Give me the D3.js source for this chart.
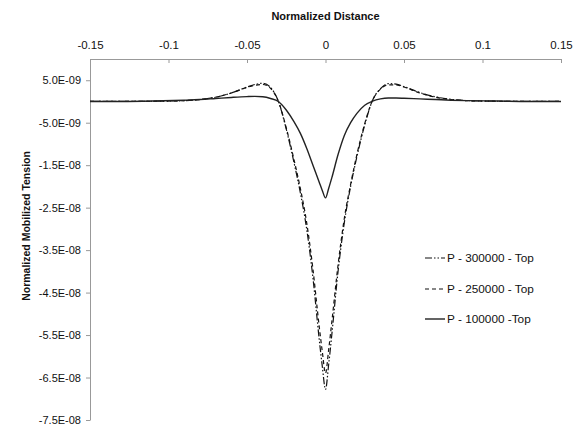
<!DOCTYPE html>
<html><head><meta charset="utf-8">
<script src="https://cdn.jsdelivr.net/npm/d3@7/dist/d3.min.js"></script>
<style>
html,body{margin:0;padding:0;background:#fff;}
text{font-family:"Liberation Sans",Arial,sans-serif;fill:#111;}
</style></head>
<body>
<svg id="chart" width="573" height="429"></svg>
<script>
const xs = [-0.15,-0.13,-0.11,-0.09,-0.08,-0.07,-0.06,-0.05,-0.045,-0.04,-0.035,-0.03,-0.025,-0.02,-0.016,-0.012,-0.008,-0.004,-0.002,0,0.002,0.004,0.008,0.012,0.016,0.02,0.025,0.03,0.035,0.04,0.045,0.05,0.06,0.07,0.08,0.09,0.11,0.13,0.15];
const p300000 = [0,0,0.05e-9,0.2e-9,0.45e-9,1.0e-9,2.0e-9,3.4e-9,4.0e-9,4.3e-9,3.3e-9,0,-6.5e-9,-14.5e-9,-21.5e-9,-30.0e-9,-41.5e-9,-56.0e-9,-62.5e-9,-67.8e-9,-62.0e-9,-55.0e-9,-40.0e-9,-28.5e-9,-20.0e-9,-13.0e-9,-5.5e-9,0.3e-9,3.0e-9,4.2e-9,4.1e-9,3.5e-9,2.1e-9,1.1e-9,0.5e-9,0.2e-9,0.05e-9,0,0];
const p250000 = [0,0,0.05e-9,0.2e-9,0.45e-9,1.0e-9,2.0e-9,3.3e-9,3.8e-9,4.0e-9,3.1e-9,0,-6.2e-9,-13.8e-9,-20.5e-9,-28.5e-9,-39.5e-9,-53.0e-9,-59.0e-9,-64.0e-9,-58.5e-9,-52.0e-9,-38.5e-9,-27.5e-9,-19.5e-9,-12.5e-9,-5.2e-9,0.3e-9,2.9e-9,3.9e-9,3.9e-9,3.4e-9,2.0e-9,1.0e-9,0.45e-9,0.2e-9,0.05e-9,0,0];
const p100000 = [0,0,0.1e-9,0.3e-9,0.45e-9,0.7e-9,0.95e-9,1.15e-9,1.2e-9,1.1e-9,0.7e-9,0,-2.0e-9,-4.8e-9,-7.5e-9,-11.0e-9,-15.0e-9,-19.0e-9,-21.0e-9,-22.7e-9,-20.5e-9,-18.0e-9,-12.5e-9,-8.0e-9,-5.0e-9,-2.8e-9,-0.9e-9,0.1e-9,0.6e-9,0.8e-9,0.8e-9,0.75e-9,0.6e-9,0.45e-9,0.3e-9,0.2e-9,0.1e-9,0,0];
const seriesNames = ["P - 300000 - Top","P - 250000 - Top","P - 100000 -Top"];
const xTickValues = [-0.15,-0.1,-0.05,0,0.05,0.1,0.15];
const xTickLabels = ["-0.15","-0.1","-0.05","0","0.05","0.1","0.15"];
const yTickValues = [5e-9,-5e-9,-1.5e-8,-2.5e-8,-3.5e-8,-4.5e-8,-5.5e-8,-6.5e-8,-7.5e-8];
const yTickLabels = ["5.0E-09","-5.0E-09","-1.5E-08","-2.5E-08","-3.5E-08","-4.5E-08","-5.5E-08","-6.5E-08","-7.5E-08"];

const svg = d3.select("#chart");
const L = 90, R = 561, T = 59, B = 420;
const x = d3.scaleLinear().domain([-0.15,0.15]).range([L,R]);
const y = d3.scaleLinear().domain([-7.5e-8,1e-8]).range([B,T]);

// top axis
const xAxis = d3.axisTop(x).tickValues(xTickValues)
  .tickFormat((d,i)=>xTickLabels[i]).tickSizeInner(-4).tickSizeOuter(0).tickPadding(10);
const gx = svg.append("g").attr("transform",`translate(0,${T})`).call(xAxis);
gx.select(".domain").attr("stroke","#999");
gx.selectAll(".tick line").attr("stroke","#999");
gx.selectAll(".tick text").attr("font-size","11.5px").attr("fill","#111").attr("dy","0");

// left axis
const yAxis = d3.axisLeft(y).tickValues(yTickValues)
  .tickFormat((d,i)=>yTickLabels[i]).tickSizeInner(4).tickSizeOuter(0).tickPadding(5);
const gy = svg.append("g").attr("transform",`translate(${L},0)`).call(yAxis);
gy.select(".domain").attr("stroke","#999");
gy.selectAll(".tick line").attr("stroke","#999");
gy.selectAll(".tick text").attr("font-size","11px").attr("fill","#111");

// titles
svg.append("text").attr("x",(L+R)/2).attr("y",20).attr("text-anchor","middle")
  .attr("font-size","11px").attr("font-weight","bold").text("Normalized Distance");
svg.append("text").attr("transform",`translate(30,226) rotate(-90)`).attr("text-anchor","middle")
  .attr("font-size","10.5px").attr("font-weight","bold").text("Normalized Mobilized Tension");

const styles = [
  {data:p300000, dash:"7,2,1.5,2,1.5,2", w:1.2, color:"#111"},
  {data:p250000, dash:"4,3", w:1.2, color:"#111"},
  {data:p100000, dash:null, w:1.4, color:"#222"}
];
const line = d3.line().curve(d3.curveMonotoneX);
styles.forEach(s=>{
  const pts = xs.map((v,i)=>[x(v), y(s.data[i])]);
  svg.append("path").attr("d", line(pts)).attr("fill","none")
    .attr("stroke",s.color).attr("stroke-width",s.w)
    .attr("stroke-dasharray",s.dash);
});

// legend
const legY = [258,289,319];
styles.forEach((s,i)=>{
  svg.append("line").attr("x1",425).attr("x2",445).attr("y1",legY[i]).attr("y2",legY[i])
    .attr("stroke",s.color).attr("stroke-width",s.w).attr("stroke-dasharray",s.dash);
  svg.append("text").attr("x",447).attr("y",legY[i]+4).attr("font-size","11.8px").text(seriesNames[i]);
});
</script>
</body></html>
